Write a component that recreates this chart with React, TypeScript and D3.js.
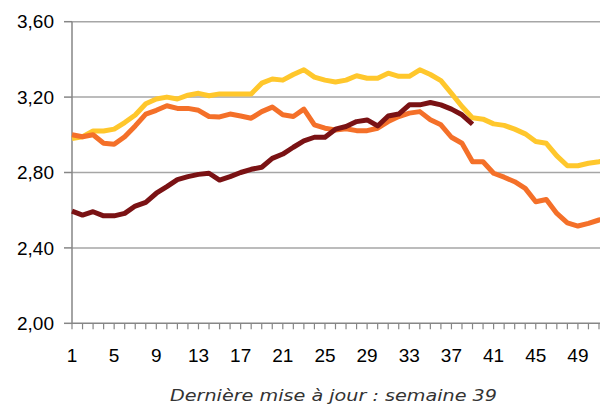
import React from "react";
import * as d3 from "d3";

const weeks = d3.range(1, 53);
const yTicks = [2.0, 2.4, 2.8, 3.2, 3.6];
const xLabels = [1, 5, 9, 13, 17, 21, 25, 29, 33, 37, 41, 45, 49];

const yellow = [
  2.98, 2.99, 3.02, 3.02, 3.03, 3.065, 3.105, 3.165, 3.19, 3.2, 3.19, 3.21, 3.22,
  3.207, 3.217, 3.217, 3.217, 3.217, 3.274, 3.296, 3.29, 3.32, 3.345, 3.306, 3.29, 3.28,
  3.29, 3.313, 3.3, 3.3, 3.327, 3.31, 3.31, 3.345, 3.32, 3.287, 3.22, 3.15, 3.09,
  3.083, 3.058, 3.05, 3.03, 3.005, 2.964, 2.955, 2.888, 2.836, 2.836, 2.849, 2.857, 2.87,
];
const orange = [
  3.0, 2.99, 3.0, 2.955, 2.95, 2.99, 3.047, 3.11, 3.13, 3.154, 3.14, 3.14, 3.13,
  3.097, 3.095, 3.11, 3.1, 3.088, 3.123, 3.147, 3.106, 3.097, 3.136, 3.053, 3.035, 3.026,
  3.032, 3.022, 3.022, 3.035, 3.07, 3.097, 3.115, 3.123, 3.08, 3.053, 2.987, 2.955, 2.857,
  2.857, 2.796, 2.775, 2.751, 2.716, 2.645, 2.657, 2.583, 2.533, 2.516, 2.53, 2.548, 2.56,
];
const darkRed = [
  2.595, 2.574, 2.592, 2.57, 2.57, 2.583, 2.622, 2.642, 2.69, 2.725, 2.762, 2.778, 2.79,
  2.796, 2.76, 2.778, 2.8, 2.817, 2.828, 2.875, 2.898, 2.934, 2.968, 2.987, 2.987, 3.03,
  3.044, 3.07, 3.079, 3.047, 3.1, 3.11, 3.159, 3.159, 3.171, 3.159, 3.136, 3.106, 3.056,
];

const series = [
  { name: "yellow", values: yellow, color: "#ffc72c" },
  { name: "orange", values: orange, color: "#f47029" },
  { name: "darkRed", values: darkRed, color: "#7a1214" },
];

const width = 600;
const height = 407;
const left = 72;
const top = 21.7;
const bottom = 323.3;

export default function App() {
  const x = d3.scaleLinear([1, 52], [left, left + 51 * 10.54]);
  const y = d3.scaleLinear([2.0, 3.6], [bottom, top]);
  const line = d3
    .line<number>()
    .x((_, i) => x(weeks[i]))
    .y((d) => y(d));

  return (
    <svg
      width={width}
      height={height}
      style={{ position: "absolute", left: 0, top: 0, background: "#fff" }}
    >
      {/* gridlines */}
      {yTicks.slice(1).map((t) => (
        <line key={t} x1={left} x2={width} y1={y(t)} y2={y(t)} stroke="#a6a6a6" strokeWidth={1.5} />
      ))}
      {/* y axis */}
      <line x1={left} x2={left} y1={top} y2={bottom} stroke="#868686" strokeWidth={1.5} />
      {yTicks.map((t) => (
        <g key={t}>
          <line x1={left - 8} x2={left} y1={y(t)} y2={y(t)} stroke="#868686" strokeWidth={1.5} />
          <text
            x={54}
            y={y(t)}
            dy="0.35em"
            textAnchor="end"
            fontFamily="Liberation Sans, Arial, sans-serif"
            fontSize={19}
            fill="#000"
          >
            {d3.format(".2f")(t).replace(".", ",")}
          </text>
        </g>
      ))}
      {/* x axis */}
      <line x1={left} x2={width} y1={bottom} y2={bottom} stroke="#868686" strokeWidth={1.5} />
      {weeks.map((w) => (
        <line key={w} x1={x(w)} x2={x(w)} y1={bottom} y2={bottom + 6} stroke="#868686" strokeWidth={1.2} />
      ))}
      {xLabels.map((w) => (
        <text
          key={w}
          x={x(w)}
          y={362}
          textAnchor="middle"
          fontFamily="Liberation Sans, Arial, sans-serif"
          fontSize={19}
          fill="#000"
        >
          {w}
        </text>
      ))}
      {/* series */}
      {series.map((s) => (
        <path
          key={s.name}
          d={line(s.values) ?? ""}
          fill="none"
          stroke={s.color}
          strokeWidth={5}
          strokeLinejoin="round"
        />
      ))}
      <text
        x={333.5}
        y={401}
        textAnchor="middle"
        fontFamily="DejaVu Sans, sans-serif"
        fontStyle="italic"
        fontSize={16.5}
        fill="#333"
        textLength={327}
        lengthAdjust="spacingAndGlyphs"
      >
        Dernière mise à jour : semaine 39
      </text>
    </svg>
  );
}
